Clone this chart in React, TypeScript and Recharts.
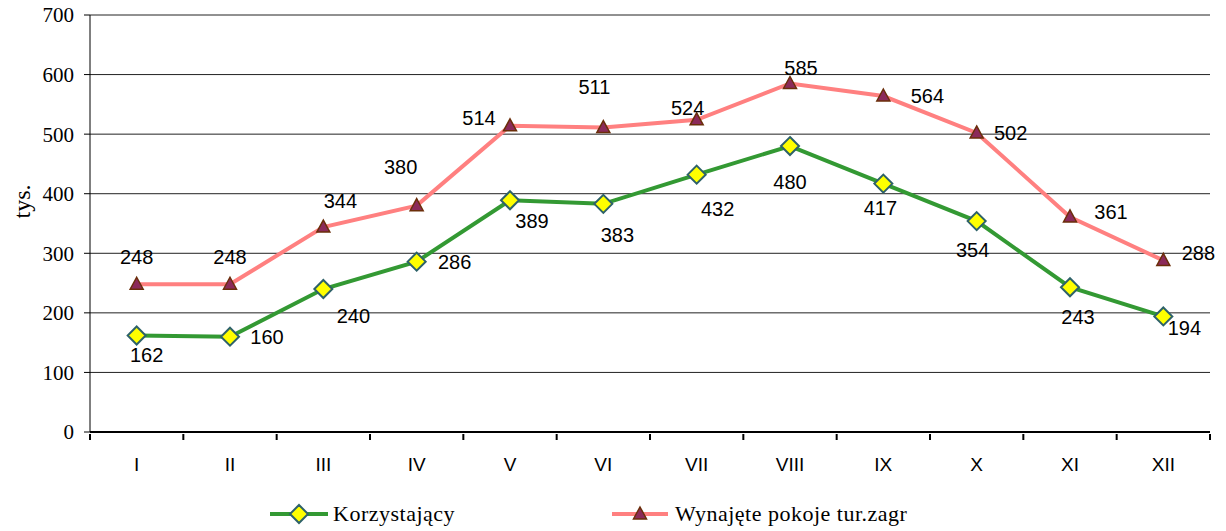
import React from 'react';
import { LineChart, Line, XAxis, YAxis, CartesianGrid, Legend, LabelList, Label } from 'recharts';

// months as roman numerals
const months = ['I', 'II', 'III', 'IV', 'V', 'VI', 'VII', 'VIII', 'IX', 'X', 'XI', 'XII'];
const korzystajacy = [162, 160, 240, 286, 389, 383, 432, 480, 417, 354, 243, 194];
const wynajete = [248, 248, 344, 380, 514, 511, 524, 585, 564, 502, 361, 288];
const yTicks = [0, 100, 200, 300, 400, 500, 600, 700];

const GREEN = '#339933';
const PINK = '#ff8080';
const SANS = '"Liberation Sans", Arial, sans-serif';
const SERIF = '"Liberation Serif", "Times New Roman", serif';

// label offsets (dx, dy) from each point, like the hand-placed labels in the original
const greenLabelPos = [[10, 20], [37, 0], [30, 27], [38, 0], [22, 21], [14, 31], [21, 34], [0, 36], [-3, 24], [-4, 29], [8, 30], [21, 12]];
const pinkLabelPos = [[0, -27], [0, -27], [17, -26], [-16, -39], [-31, -8], [-9, -41], [-9, -12], [11, -16], [44, 0], [34, 0], [41, -5], [35, -7]];

const data = months.map((m, i) => ({ m, k: korzystajacy[i], w: wynajete[i] }));

const Diamond = ({ cx, cy }: any) => (
  <path d={`M${cx},${cy - 9} L${cx + 9},${cy} L${cx},${cy + 9} L${cx - 9},${cy} Z`} fill="#ffff00" stroke="#2e6269" strokeWidth={2} />
);

const Triangle = ({ cx, cy }: any) => (
  <path d={`M${cx},${cy - 7} L${cx + 6.5},${cy + 5} L${cx - 6.5},${cy + 5} Z`} fill="#8b2a5a" stroke="#6b2e0a" strokeWidth={1.5} />
);

const makeLabel = (pos: number[][]) => (p: any) => {
  const [dx, dy] = pos[p.index] || [0, 0];
  return (
    <text x={p.x + dx} y={p.y + dy} textAnchor="middle" dominantBaseline="central" fontFamily={SANS} fontSize={20} fill="#000">
      {p.value}
    </text>
  );
};

const MonthTick = (props: any) => {
  const { x, y, payload, index } = props;
  const half = payload.offset || 0;
  return (
    <g>
      <line x1={x - half} y1={y} x2={x - half} y2={y + 6} stroke="#000" strokeWidth={2} />
      {index === months.length - 1 && <line x1={x + half} y1={y} x2={x + half} y2={y + 6} stroke="#000" strokeWidth={2} />}
      <text x={x} y={y + 37} textAnchor="middle" fontFamily={SANS} fontSize={19} fill="#000">{payload.value}</text>
    </g>
  );
};

const LegendBox = () => (
  <div style={{ position: 'relative', width: 1226, height: 44 }}>
    <svg width={1226} height={44} style={{ position: 'absolute', left: 0, top: 0 }}>
      <line x1={270} y1={27} x2={328} y2={27} stroke={GREEN} strokeWidth={4} />
      <Diamond cx={299} cy={27} />
      <text x={333} y={34} fontFamily={SERIF} fontSize={22} letterSpacing={0.5} fill="#000">Korzystający</text>
      <line x1={612} y1={27} x2={668} y2={27} stroke={PINK} strokeWidth={4} />
      <Triangle cx={640} cy={27} />
      <text x={675} y={34} fontFamily={SERIF} fontSize={22} letterSpacing={0.5} fill="#000">Wynajęte pokoje tur.zagr</text>
    </svg>
  </div>
);

export default function App() {
  return (
    <div style={{ position: 'absolute', left: 0, top: 0, background: '#fff' }}>
      <LineChart width={1226} height={531} data={data} margin={{ top: 15, right: 16, left: 0, bottom: 0 }}>
        <CartesianGrid vertical={false} stroke="#222" />
        <XAxis dataKey="m" scale="band" height={55} axisLine={{ stroke: '#000', strokeWidth: 2 }} tickLine={false} tickSize={0} tick={<MonthTick />} interval={0} />
        <YAxis width={90} domain={[0, 700]} ticks={yTicks} interval={0} axisLine={{ stroke: '#000' }} tickLine={{ stroke: '#000' }} tickSize={6} tickMargin={10}
          tick={{ fontFamily: SERIF, fontSize: 21, fill: '#000' }}>
          <Label content={({ viewBox }: any) => (
            <text x={viewBox.x + 22} y={viewBox.y + viewBox.height / 2 - 22} transform={`rotate(-90, ${viewBox.x + 22}, ${viewBox.y + viewBox.height / 2 - 22})`}
              textAnchor="middle" dominantBaseline="central" fontFamily={SERIF} fontSize={24} fill="#000">tys.</text>
          )} />
        </YAxis>
        <Legend verticalAlign="bottom" content={<LegendBox />} />
        <Line type="linear" dataKey="w" name="Wynajęte pokoje tur.zagr" stroke={PINK} strokeWidth={4} isAnimationActive={false}
          dot={(p: any) => <Triangle key={`t${p.index}`} cx={p.cx} cy={p.cy} />} activeDot={false}>
          <LabelList dataKey="w" content={makeLabel(pinkLabelPos)} />
        </Line>
        <Line type="linear" dataKey="k" name="Korzystający" stroke={GREEN} strokeWidth={4} isAnimationActive={false}
          dot={(p: any) => <Diamond key={`d${p.index}`} cx={p.cx} cy={p.cy} />} activeDot={false}>
          <LabelList dataKey="k" content={makeLabel(greenLabelPos)} />
        </Line>
      </LineChart>
    </div>
  );
}
